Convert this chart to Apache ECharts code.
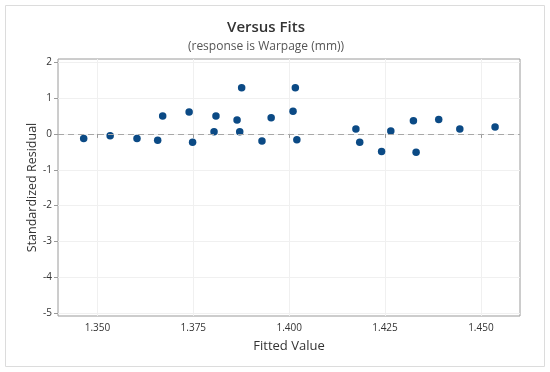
<!DOCTYPE html>
<html>
<head>
<meta charset="utf-8">
<script src="https://cdn.jsdelivr.net/npm/echarts@6/dist/echarts.min.js"></script>
<style>
html,body{margin:0;padding:0;background:#fff;}
#chart{width:550px;height:372px;}
</style>
</head>
<body>
<div id="chart"></div>
<script>
const fitted = [1.3464,1.3533,1.3603,1.3657,1.3670,1.3739,1.3748,1.3804,1.3809,1.3864,1.3876,1.3871,1.3929,1.3953,1.4010,1.4016,1.4020,1.4174,1.4184,1.4241,1.4265,1.4324,1.4331,1.4390,1.4445,1.4537];
const residual = [-0.13,-0.05,-0.13,-0.18,0.50,0.61,-0.23,0.06,0.50,0.39,1.29,0.06,-0.20,0.45,0.63,1.29,-0.16,0.14,-0.23,-0.49,0.08,0.37,-0.51,0.40,0.14,0.19];
const xTicks = [1.350,1.375,1.400,1.425,1.450];
const yTicks = [-5,-4,-3,-2,-1,0,1,2];
const titleText = 'Versus Fits';
const subtitleText = '(response is Warpage (mm))';
const xName = 'Fitted Value';
const yName = 'Standardized Residual';

const font = '"Open Sans", "Noto Sans", sans-serif';
const chart = echarts.init(document.getElementById('chart'), null, {renderer:'canvas'});
const points = fitted.map((f,i)=>[f,residual[i]]);
chart.setOption({
  animation:false,
  backgroundColor:'#fff',
  graphic:[{
    type:'rect', shape:{x:5.5,y:5.5,width:539,height:361},
    style:{fill:'none',stroke:'#dcdcdc',lineWidth:1}, z:-1
  }],
  title:[{
    text:titleText, left:261, top:15, textAlign:'center',
    textStyle:{fontFamily:font,fontSize:15,fontWeight:600,color:'#333'}
  },{
    text:subtitleText, left:261, top:36, textAlign:'center',
    textStyle:{fontFamily:font,fontSize:12,fontWeight:'normal',color:'#555'}
  }],
  grid:{left:58,right:30,top:59,bottom:56,show:true,borderColor:'#9a9a9a',borderWidth:1,backgroundColor:'transparent'},
  xAxis:{
    type:'value', min:1.3397, max:1.4602,
    name:xName, nameLocation:'middle', nameGap:24,
    nameTextStyle:{fontFamily:font,fontSize:13,color:'#333'},
    axisLine:{show:false},
    axisTick:{show:true,length:4,customValues:xTicks,lineStyle:{color:'#9a9a9a'}},
    axisLabel:{customValues:xTicks,formatter:v=>v.toFixed(3),fontFamily:font,fontSize:10,color:'#333',margin:7},
    splitLine:{show:true,lineStyle:{color:'#f0f0f0',width:1}}
  },
  yAxis:{
    type:'value', min:-5.08, max:2.09,
    name:yName, nameLocation:'middle', nameGap:19, nameMoveOverlap:false,
    nameTextStyle:{fontFamily:font,fontSize:12.5,color:'#333'},
    axisLine:{show:false},
    axisTick:{show:true,length:4,customValues:yTicks,lineStyle:{color:'#9a9a9a'}},
    axisLabel:{customValues:yTicks,fontFamily:font,fontSize:10,color:'#333',margin:6},
    splitLine:{show:true,lineStyle:{color:'#f0f0f0',width:1}}
  },
  series:[{
    type:'scatter', data:points, symbol:'circle', symbolSize:7.5,
    itemStyle:{color:'#0b4a85',opacity:1},
    markLine:{
      silent:true, symbol:['none','none'], label:{show:false},
      lineStyle:{color:'#a8a8a8',type:[6,4],width:1.2},
      data:[{yAxis:0}]
    }
  }]
});
</script>
</body>
</html>
